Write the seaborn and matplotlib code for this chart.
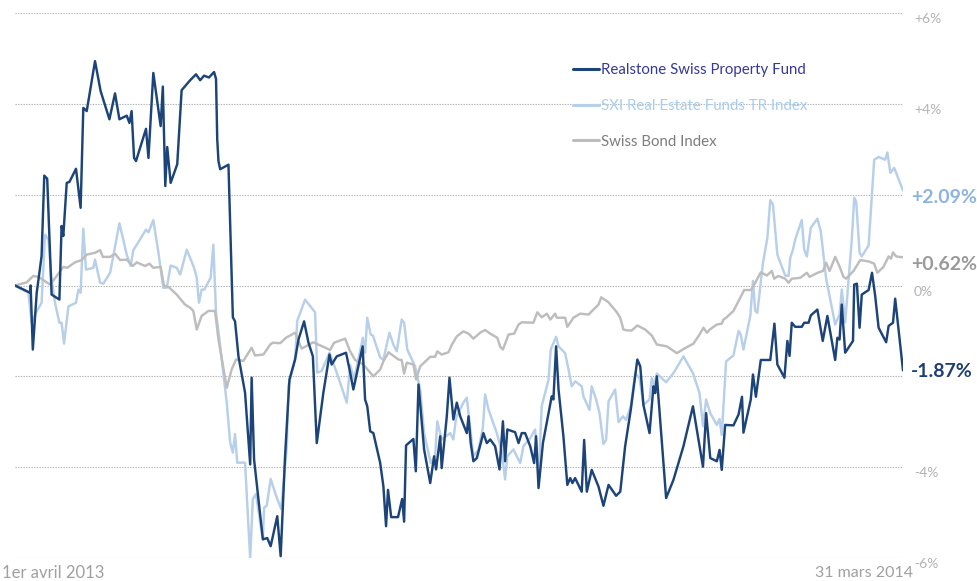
import numpy as np
import pandas as pd
import matplotlib
matplotlib.use("Agg")
import matplotlib.pyplot as plt
import matplotlib.transforms as mtransforms
from matplotlib.lines import Line2D
import seaborn as sns

# ---------------- data (days since 1 April 2013, performance in %) ----------------
series_names = ["Realstone Swiss Property Fund", "SXI Real Estate Funds TR Index", "Swiss Bond Index"]

realstone_days = [0.0, 6.2, 6.4, 7.3, 8.9, 10.9, 12.0, 13.2, 15.0, 18.2, 19.1, 19.8, 21.2, 22.3, 25.0, 26.9,
    28.0, 29.4, 32.8, 35.1, 38.7, 41.0, 42.8, 45.8, 46.9, 47.8, 48.8, 49.6, 53.7, 54.7, 56.7, 59.7, 60.6,
    61.6, 62.4, 63.8, 66.5, 68.3, 71.8, 74.2, 75.9, 77.5, 79.5, 81.6, 82.4, 82.9, 83.4, 84.1, 87.5, 89.3,
    90.2, 91.6, 94.3, 96.4, 97.0, 98.0, 101.6, 103.4, 104.8, 107.5, 108.9, 110.7, 112.5, 114.8, 116.2,
    118.5, 120.3, 122.1, 123.7, 126.4, 128.9, 129.8, 131.9, 135.7, 137.4, 138.7, 142.5, 143.5, 144.4,
    145.6, 146.9, 149.7, 151.0, 152.1, 152.9, 154.2, 157.0, 158.7, 159.5, 160.3, 163.3, 164.3, 165.4,
    167.7, 170.2, 171.8, 172.6, 174.3, 174.9, 177.0, 178.1, 179.7, 181.1, 182.5, 185.2, 185.9, 186.8,
    187.9, 189.3, 192.0, 193.4, 194.8, 196.8, 198.6, 200.0, 200.9, 201.8, 205.0, 206.4, 207.7, 209.1,
    211.2, 212.8, 213.6, 214.6, 216.4, 220.0, 220.7, 221.8, 222.8, 224.8, 226.4, 227.6, 228.5, 229.6,
    232.3, 233.3, 234.4, 236.4, 239.2, 241.2, 243.3, 246.4, 248.1, 250.1, 252.4, 255.1, 256.3, 257.6,
    260.1, 261.7, 262.4, 263.1, 266.9, 269.9, 274.0, 277.9, 282.0, 283.3, 285.0, 287.7, 288.8, 289.7,
    291.1, 294.5, 296.6, 298.0, 298.6, 301.6, 302.5, 303.7, 305.7, 309.6, 311.3, 312.5, 315.4, 316.6,
    317.5, 318.4, 319.8, 322.5, 323.5, 325.3, 326.2, 328.9, 331.1, 333.0, 336.2, 337.1, 338.0, 338.9,
    340.3, 343.5, 344.0, 345.1, 346.2, 347.1, 349.9, 351.3, 352.6, 354.0, 357.1, 358.1, 359.9, 360.8, 364.0]
realstone_vals = [0.0, -0.16, 0.0, -1.41, -0.16, 0.65, 2.42, 2.35, -0.2, -0.31, 1.31, 1.09, 2.26, 2.28, 2.57,
    1.71, 3.91, 3.84, 4.94, 4.28, 3.66, 4.23, 3.66, 3.74, 3.58, 3.84, 2.81, 2.74, 3.45, 2.81, 4.68, 3.51,
    4.38, 2.19, 3.05, 2.26, 2.67, 4.30, 4.52, 4.65, 4.52, 4.62, 4.58, 4.70, 4.55, 3.22, 2.74, 2.56, 2.66,
    -0.70, -0.79, -1.56, -2.36, -3.94, -2.03, -3.83, -5.59, -5.56, -5.74, -5.08, -5.96, -3.76, -2.07,
    -1.63, -1.19, -0.79, -1.26, -1.56, -3.47, -2.36, -1.52, -1.74, -1.56, -1.48, -1.92, -2.29, -1.34,
    -2.51, -2.66, -3.21, -3.25, -3.91, -4.42, -5.3, -4.5, -5.1, -5.1, -4.7, -5.2, -3.52, -3.38, -4.09,
    -2.18, -3.61, -4.35, -3.76, -4.05, -3.32, -4.02, -2.88, -2.03, -2.95, -2.58, -2.88, -3.25, -2.88,
    -3.47, -3.87, -3.80, -3.25, -3.47, -3.39, -3.54, -4.05, -2.99, -3.87, -3.17, -3.23, -3.47, -3.25,
    -3.25, -3.54, -3.91, -3.32, -4.46, -3.47, -2.44, -2.51, -1.34, -2.29, -3.32, -4.39, -4.24, -4.35,
    -4.24, -4.54, -3.40, -4.54, -4.06, -4.43, -4.85, -4.39, -4.63, -4.54, -3.54, -2.74, -1.63, -1.78,
    -2.63, -3.25, -2.22, -2.37, -2.00, -4.68, -4.28, -3.54, -2.66, -3.99, -2.81, -3.80, -3.87, -3.62,
    -4.06, -3.07, -3.08, -2.84, -2.45, -3.24, -2.51, -1.96, -2.45, -1.64, -1.64, -0.84, -1.74, -2.03,
    -1.22, -1.55, -0.82, -0.91, -0.91, -0.82, -0.82, -0.66, -0.53, -1.22, -0.67, -1.64, -1.15, -1.19,
    -0.42, -1.48, -1.22, 0.02, 0.04, -0.93, -0.20, -0.10, 0.28, -0.23, -0.93, -1.25, -0.89, -0.82, -0.29, -1.87]

sxi_days = [0.0, 5.5, 6.8, 8.6, 10.9, 12.3, 13.7, 15.0, 16.4, 18.2, 19.1, 20.1, 21.9, 25.0, 26.0, 26.9, 28.0,
    29.1, 32.1, 32.8, 34.9, 36.2, 39.0, 42.8, 45.8, 47.4, 48.5, 49.6, 53.7, 54.7, 56.7, 58.8, 60.8, 62.2,
    63.8, 66.3, 67.7, 70.4, 73.4, 74.5, 75.4, 76.5, 77.6, 80.2, 81.3, 82.4, 83.8, 86.8, 88.2, 89.3, 90.2,
    91.1, 94.3, 96.4, 97.5, 98.8, 100.5, 101.6, 102.1, 103.2, 104.8, 107.3, 109.1, 111.4, 112.1, 114.8,
    115.7, 118.9, 123.0, 123.9, 125.7, 128.9, 131.9, 136.0, 137.4, 139.0, 142.6, 143.5, 144.4, 145.8,
    146.7, 149.7, 151.0, 153.5, 155.1, 156.5, 158.5, 159.5, 160.8, 164.0, 166.1, 167.7, 170.4, 172.2,
    173.1, 174.9, 178.4, 179.7, 180.8, 183.8, 185.2, 187.9, 190.0, 191.8, 192.7, 194.1, 197.5, 199.5,
    200.9, 201.8, 204.3, 207.1, 208.4, 211.2, 213.2, 214.6, 215.9, 218.7, 219.6, 221.8, 222.8, 225.5,
    226.9, 228.2, 229.6, 232.3, 233.0, 235.5, 236.4, 238.2, 239.6, 241.2, 242.3, 243.3, 246.0, 247.4,
    249.2, 250.5, 252.4, 254.2, 256.0, 257.6, 260.1, 261.0, 262.0, 263.1, 266.9, 269.9, 274.0, 277.9,
    280.6, 282.0, 283.3, 285.0, 287.7, 288.8, 289.7, 291.5, 294.5, 296.6, 297.5, 298.6, 301.4, 302.5,
    303.4, 304.3, 306.6, 308.4, 309.6, 310.7, 312.5, 315.7, 317.1, 317.8, 318.9, 319.8, 322.5, 323.5,
    324.6, 326.2, 328.9, 330.3, 332.5, 334.2, 336.2, 338.0, 338.9, 340.3, 343.0, 344.0, 344.8, 346.2,
    347.1, 349.9, 352.2, 354.0, 356.7, 357.6, 358.8, 360.4, 364.0]
sxi_vals = [0.0, -0.16, -0.82, -0.60, -0.38, 1.12, 1.01, 0.13, -0.38, -0.82, -0.82, -1.28, -0.46, -0.38,
    -0.09, -0.16, 1.25, 0.35, 0.39, 0.57, 0.06, 0.04, 0.28, 1.37, 0.68, 0.43, 0.78, 0.87, 1.23, 1.17, 1.44,
    0.72, -0.05, -0.05, 0.44, 0.39, 0.24, 0.79, 0.39, 0.17, -0.38, -0.09, -0.09, 0.17, 0.90, -0.60, -1.19,
    -2.58, -3.46, -3.68, -3.27, -3.90, -3.90, -6.01, -4.70, -4.59, -5.22, -5.58, -4.89, -4.85, -4.26,
    -4.67, -4.92, -3.57, -2.21, -1.63, -0.78, -0.31, -0.59, -1.92, -1.88, -1.48, -1.92, -2.58, -1.75,
    -2.07, -1.15, -1.48, -0.71, -1.08, -1.10, -1.59, -1.63, -1.04, -1.30, -1.45, -0.75, -0.82, -1.41,
    -1.78, -2.29, -3.25, -3.91, -3.76, -2.99, -3.39, -3.25, -3.39, -2.91, -2.58, -2.47, -3.76, -3.61,
    -3.13, -2.40, -2.73, -3.25, -3.65, -4.27, -3.76, -3.61, -3.91, -3.54, -3.36, -3.17, -4.27, -2.66,
    -2.07, -1.41, -1.13, -1.34, -1.49, -1.85, -2.22, -2.11, -2.22, -2.44, -2.74, -2.22, -2.51, -2.81,
    -3.49, -3.40, -2.55, -2.29, -3.01, -2.88, -2.96, -2.66, -1.93, -2.04, -2.63, -2.51, -2.04, -2.21,
    -1.94, -2.13, -1.93, -1.56, -1.93, -2.37, -3.10, -2.51, -2.81, -3.07, -2.94, -3.29, -1.67, -1.54,
    -1.00, -1.08, -1.41, -0.67, 0.10, -0.56, -0.60, 0.50, 1.05, 1.88, 1.78, 0.68, 0.22, 0.21, 0.61, 0.79,
    1.01, 1.44, 0.79, 0.64, 1.27, 1.47, 1.19, 0.15, -0.31, -0.86, -0.64, -0.09, -0.81, 1.01, 1.93, 1.85,
    0.72, 0.64, 0.88, 2.77, 2.83, 2.77, 2.93, 2.48, 2.59, 2.09]

bond_days = [0.0, 4.8, 7.5, 9.6, 11.6, 14.4, 17.1, 19.8, 21.4, 24.6, 27.3, 29.4, 32.8, 34.9, 36.0, 39.0, 41.0,
    43.1, 45.8, 48.3, 49.9, 53.3, 55.1, 56.7, 59.7, 61.1, 62.9, 66.3, 69.7, 71.8, 73.1, 74.5, 76.5, 79.3,
    82.0, 83.4, 86.8, 88.8, 90.6, 93.6, 97.0, 98.4, 101.8, 104.6, 105.7, 108.7, 111.1, 114.8, 117.5,
    122.3, 129.2, 130.8, 135.3, 137.4, 139.4, 142.8, 146.9, 149.7, 151.0, 153.1, 157.2, 158.5, 159.5,
    160.6, 163.3, 164.4, 166.1, 170.2, 172.2, 173.1, 174.9, 177.7, 179.1, 181.1, 183.8, 185.9, 187.9,
    190.9, 192.7, 194.8, 197.7, 198.9, 200.0, 202.3, 204.6, 206.4, 207.7, 212.5, 214.1, 215.9, 218.0,
    219.4, 221.4, 222.1, 225.5, 226.4, 228.9, 231.7, 235.1, 237.1, 239.2, 240.3, 243.3, 246.7, 248.1,
    249.4, 251.0, 252.8, 255.1, 258.3, 261.0, 263.1, 267.2, 271.3, 274.0, 278.1, 280.6, 282.2, 283.6,
    285.0, 287.7, 289.7, 290.4, 291.5, 294.5, 296.6, 298.9, 301.6, 302.7, 305.7, 308.2, 310.2, 311.2,
    312.9, 315.7, 317.1, 318.4, 321.9, 324.6, 325.7, 329.4, 331.2, 332.5, 333.9, 336.2, 338.0, 339.6,
    340.7, 343.7, 346.5, 349.9, 352.2, 353.5, 356.0, 358.1, 359.1, 359.9, 361.2, 364.0]
bond_vals = [0.0, 0.07, 0.21, 0.19, 0.12, 0.02, 0.21, 0.41, 0.39, 0.51, 0.56, 0.68, 0.72, 0.78, 0.63, 0.63,
    0.70, 0.56, 0.57, 0.43, 0.51, 0.43, 0.48, 0.39, 0.41, -0.01, -0.03, -0.20, -0.42, -0.49, -0.56, -0.97,
    -0.67, -0.56, -0.56, -1.19, -2.25, -1.85, -1.63, -1.66, -1.37, -1.54, -1.52, -1.30, -1.26, -1.27,
    -1.15, -1.04, -1.39, -1.25, -1.42, -1.26, -1.17, -1.45, -1.64, -1.74, -2.00, -1.85, -1.67, -1.47,
    -1.63, -1.64, -1.94, -1.70, -1.74, -2.07, -1.78, -1.57, -1.57, -1.45, -1.52, -1.47, -1.30, -1.12,
    -1.01, -1.06, -1.17, -1.03, -0.98, -1.06, -1.15, -1.35, -1.41, -1.08, -1.06, -0.86, -0.81, -0.82,
    -0.59, -0.70, -0.62, -0.75, -0.62, -0.71, -0.71, -0.91, -0.71, -0.62, -0.64, -0.53, -0.42, -0.26,
    -0.37, -0.59, -0.71, -0.97, -0.99, -0.99, -0.88, -0.97, -1.10, -1.30, -1.34, -1.49, -1.40, -1.28,
    -1.08, -0.93, -1.04, -0.96, -0.86, -0.84, -0.75, -0.71, -0.56, -0.34, -0.10, -0.10, -0.01, 0.29,
    0.22, 0.32, 0.15, 0.21, 0.15, 0.06, 0.15, 0.17, 0.28, 0.19, 0.29, 0.32, 0.50, 0.32, 0.63, 0.42, 0.19,
    0.15, 0.32, 0.56, 0.53, 0.48, 0.28, 0.41, 0.64, 0.59, 0.73, 0.64, 0.62]

y_ticks = [-6, -4, 0, 4, 6]
y_tick_labels = ["-6%", "-4%", "0%", "+4%", "+6%"]
grid_levels = [-6, -4, -2, 0, 2, 4, 6]
end_labels = ["-1.87%", "+2.09%", "+0.62%"]
x_labels = ["1er avril 2013", "31 mars 2014"]

# ---------------- styling ----------------
line_colors = {"Realstone Swiss Property Fund": "#1d4479",
               "SXI Real Estate Funds TR Index": "#b7cfe8",
               "Swiss Bond Index": "#bdbdbd"}
legend_text_colors = ["#35399a", "#a6cdf3", "#7d7d7d"]
end_label_colors = ["#1d3f74", "#8eb4de", "#9a9a9a"]
end_label_dy = [-1, -5, -5]

sns.set_theme(style="white")
plt.rcParams["font.family"] = ["Lato", "DejaVu Sans"]

start = pd.Timestamp("2013-04-01")
end = pd.Timestamp("2014-03-31")

frames = []
for name, d, v in [(series_names[0], realstone_days, realstone_vals),
                   (series_names[1], sxi_days, sxi_vals),
                   (series_names[2], bond_days, bond_vals)]:
    frames.append(pd.DataFrame({"date": start + pd.to_timedelta(d, unit="D"),
                                "value": v, "series": name}))
df = pd.concat(frames, ignore_index=True)

fig = plt.figure(figsize=(9.78, 5.81), dpi=100)
ax = fig.add_axes([15 / 978, 23 / 581, 888 / 978, 545 / 581])

for lvl in grid_levels:
    ax.axhline(lvl, color="#b0b0b0", lw=0.8, ls=(0, (1.2, 1.2)), zorder=0)

draw_order = [series_names[1], series_names[2], series_names[0]]
for i, name in enumerate(draw_order):
    sns.lineplot(data=df[df["series"] == name], x="date", y="value", color=line_colors[name],
                 lw=1.75, estimator=None, sort=False, ax=ax, legend=False, zorder=2 + i)

ax.set_xlim(start, end)
ax.set_ylim(-6, 6)
for s in ax.spines.values():
    s.set_visible(False)
ax.set_xticks([])
ax.set_xlabel("")
ax.set_ylabel("")
ax.yaxis.tick_right()
ax.set_yticks(y_ticks)
ax.set_yticklabels(y_tick_labels)
ax.tick_params(axis="y", length=0, pad=8, labelsize=10, labelcolor="#b3b3b3")
offset = mtransforms.ScaledTranslation(0, -5 / 100, fig.dpi_scale_trans)
for lab in ax.get_yticklabels():
    lab.set_transform(lab.get_transform() + offset)

# legend
handles = [Line2D([0], [0], color=line_colors[n], lw=2.2) for n in series_names]
leg = ax.legend(handles, series_names, loc="upper left", bbox_to_anchor=((573 - 15) / 888, (558 - 63) / 545),
                frameon=False, fontsize=10.8, handlelength=1.75, handletextpad=0.12, labelspacing=1.45,
                borderpad=0, borderaxespad=0)
for t, c in zip(leg.get_texts(), legend_text_colors):
    t.set_color(c)

# end labels
last_points = [(realstone_days[-1], realstone_vals[-1]), (sxi_days[-1], sxi_vals[-1]), (bond_days[-1], bond_vals[-1])]
for (d, v), txt, c, dy in zip(last_points, end_labels, end_label_colors, end_label_dy):
    ax.annotate(txt, xy=(start + pd.to_timedelta(d, unit="D"), v), xytext=(6, dy),
                textcoords="offset points", ha="left", va="center", fontsize=14, fontweight="bold",
                color=c, annotation_clip=False)

# date labels
fig.text(2 / 978, 1 - 573 / 581, x_labels[0], ha="left", va="center", fontsize=12, color="#a0a0a0")
fig.text(913 / 978, 1 - 573 / 581, x_labels[1], ha="right", va="center", fontsize=11.5, color="#a0a0a0")

fig.savefig("out.png", dpi=100)
